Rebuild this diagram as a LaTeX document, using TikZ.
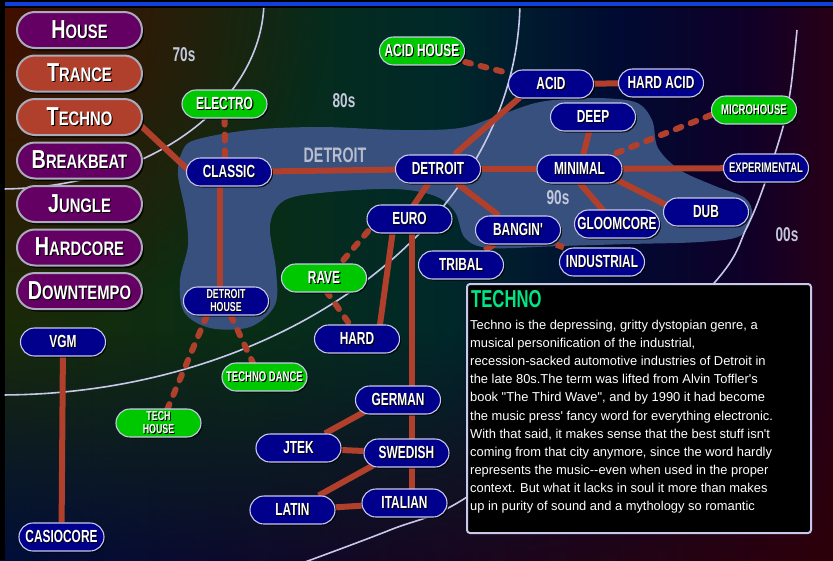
\documentclass[tikz,border=0pt]{standalone}
\usepackage{fontspec}
\usetikzlibrary{calc,shadows,fadings}
\newfontfamily\pillfont[FakeStretch=0.68]{Liberation Sans}
\newfontfamily\genrefont[FakeStretch=0.76]{Liberation Sans}
\newfontfamily\bodyfont{Liberation Sans}

\definecolor{navyfill}{RGB}{0,0,140}
\definecolor{greenfill}{RGB}{0,200,0}
\definecolor{purplefill}{RGB}{100,0,100}
\definecolor{rustfill}{RGB}{176,64,44}
\definecolor{linkred}{RGB}{176,64,44}
\definecolor{rim}{RGB}{200,200,235}
\definecolor{genrerim}{RGB}{170,170,185}
\definecolor{blobblue}{RGB}{55,80,125}
\definecolor{decade}{RGB}{195,200,220}
\definecolor{mint}{RGB}{0,230,130}
\definecolor{topblue}{RGB}{16,64,220}
\definecolor{bgA}{RGB}{26,42,8}
\definecolor{bgB}{RGB}{8,46,22}
\definecolor{bgC}{RGB}{0,40,42}
\definecolor{bgD}{RGB}{0,10,50}
\definecolor{bgE}{RGB}{16,0,40}
\definecolor{bgF}{RGB}{40,0,22}
\definecolor{lownavy}{RGB}{0,14,58}
\definecolor{lowmaroon}{RGB}{45,0,10}
\definecolor{cornerbrown}{RGB}{66,14,0}

\pgfdeclarelayer{bg}
\pgfdeclarelayer{links}
\pgfsetlayers{bg,links,main}

\pgfdeclarehorizontalshading{backdrop}{100bp}{color(0bp)=(bgA); color(25bp)=(bgA); color(40bp)=(bgB); color(52bp)=(bgC); color(62bp)=(bgD); color(70bp)=(bgE); color(75bp)=(bgF); color(100bp)=(bgF)}
\tikzfading[name=fade down, top color=transparent!100, bottom color=transparent!0]
\tikzfading[name=fade corner, inner color=transparent!0, outer color=transparent!100]

% white text with a black drop
\newcommand\shd[1]{\leavevmode\rlap{\kern1.1pt\raisebox{-1.1pt}{\color{black}#1}}#1}
\newcommand\gname[2]{\shd{{\fontsize{26}{26}\selectfont#1}{\fontsize{19.5}{20}\selectfont#2}}}

\tikzset{
  pill/.style={rectangle, rounded corners=14pt, minimum width=85pt, minimum height=28pt, inner sep=0pt,
    draw=rim, line width=1.1pt, fill=navyfill, text=white,
    font=\pillfont\bfseries\fontsize{17.5}{17}\selectfont,
    drop shadow={shadow xshift=1.5pt, shadow yshift=-1.5pt, opacity=.8, fill=black}},
  greenpill/.style={pill, fill=greenfill},
  smallpill/.style={font=\pillfont\bfseries\fontsize{14}{13}\selectfont, align=center},
  twoline/.style={font=\pillfont\bfseries\fontsize{13}{13}\selectfont, align=center},
  genre/.style={pill, rounded corners=18pt, minimum width=125pt, minimum height=36pt,
    draw=genrerim, line width=2pt, font=\genrefont\bfseries,
    drop shadow={shadow xshift=2pt, shadow yshift=-2.5pt, opacity=.85, fill=black}},
  link/.style={draw=linkred, line width=6pt},
  dashlink/.style={link, dash pattern=on 6pt off 10pt, line cap=round},
  era/.style={draw=rim, line width=1.6pt},
  eralabel/.style={text=decade, font=\pillfont\bfseries\fontsize{20}{20}\selectfont}
}

\begin{document}
\begin{tikzpicture}[x=1pt,y=-1pt]
\useasboundingbox (0,0) rectangle (833,560);

% genre buttons
\foreach \nm/\a/\b/\c [count=\i from 0] in {ghouse/H/OUSE/purplefill, gtrance/T/RANCE/rustfill,
    gtechno/T/ECHNO/rustfill, gbreak/B/REAKBEAT/purplefill, gjungle/J/UNGLE/purplefill,
    ghard/H/ARDCORE/purplefill, gdown/D/OWNTEMPO/purplefill} {
  \node[genre, fill=\c] (\nm) at (79.5,30+43.5*\i) {\gname{\a}{\b}};
}

% decades
\node[eralabel] (seventies) at (184,55) {70s};
\node[eralabel] (eighties) at (344,101) {80s};
\node[eralabel] (nineties) at (558,198) {90s};
\node[eralabel] (noughties) at (787,235) {00s};
\node[text=decade!85!gray, font=\pillfont\bfseries\fontsize{21}{21}\selectfont] (detroitarea) at (335,155) {DETROIT};

% styles
\node[greenpill] (acidhouse) at (422,51) {\shd{ACID HOUSE}};
\node[pill] (acid) at (551,84) {\shd{ACID}};
\node[pill] (hardacid) at (661,83) {\shd{HARD ACID}};
\node[pill] (deep) at (593,117) {\shd{DEEP}};
\node[greenpill, smallpill] (micro) at (754,110) {\shd{MICROHOUSE}};
\node[pill] (detroit) at (438,169) {\shd{DETROIT}};
\node[pill] (minimal) at (579.5,169) {\shd{MINIMAL}};
\node[pill, smallpill] (experimental) at (766,168) {\shd{EXPERIMENTAL}};
\node[pill] (euro) at (409.5,219) {\shd{EURO}};
\node[pill] (bangin) at (518,230) {\shd{BANGIN'}};
\node[pill] (gloom) at (617,224) {\shd{GLOOMCORE}};
\node[pill] (dub) at (706,212) {\shd{DUB}};
\node[pill] (tribal) at (461,265) {\shd{TRIBAL}};
\node[pill] (industrial) at (602,262) {\shd{INDUSTRIAL}};
\node[greenpill] (electro) at (224.5,104) {\shd{ELECTRO}};
\node[pill] (classic) at (229,172) {\shd{CLASSIC}};
\node[greenpill] (rave) at (324,278) {\shd{RAVE}};
\node[pill, twoline] (dhouse) at (226,301) {\shd{DETROIT}\\\shd{HOUSE}};
\node[pill] (hard) at (357,339) {\shd{HARD}};
\node[greenpill, smallpill] (tdance) at (264.5,377) {\shd{TECHNO DANCE}};
\node[greenpill, twoline] (techhouse) at (158.5,423) {\shd{TECH}\\\shd{HOUSE}};
\node[pill] (vgm) at (63,342) {\shd{VGM}};
\node[pill] (casio) at (61.5,537) {\shd{CASIOCORE}};
\node[pill] (german) at (398,400) {\shd{GERMAN}};
\node[pill] (jtek) at (298.5,448) {\shd{JTEK}};
\node[pill] (swedish) at (406.5,453) {\shd{SWEDISH}};
\node[pill] (latin) at (292.5,510) {\shd{LATIN}};
\node[pill] (italian) at (404.5,503) {\shd{ITALIAN}};

% info panel
\node[draw=rim, line width=2pt, fill=black, rounded corners=3pt, minimum width=344pt, minimum height=249pt] (info) at (639,408.5) {};
\node[anchor=base west, inner sep=0pt, text=mint, font=\pillfont\fontsize{24.5}{24.5}\selectfont] (infotitle) at (471,307) {\textbf{TECHNO}};
\node[anchor=north west, inner sep=0pt, align=left, text=white, font=\bodyfont\fontsize{12.9}{18.1}\selectfont] (infotext) at (470,320) {%
Techno is the depressing, gritty dystopian genre, a\\
musical personification of the industrial,\\
recession-sacked automotive industries of Detroit in\\
the late 80s.The term was lifted from Alvin Toffler's\\
book "The Third Wave", and by 1990 it had become\\
the music press' fancy word for everything electronic.\\
With that said, it makes sense that the best stuff isn't\\
coming from that city anymore, since the word hardly\\
represents the music--even when used in the proper\\
context. But what it lacks in soul it more than makes\\
up in purity of sound and a mythology so romantic};

\begin{pgfonlayer}{links}
\draw[link] ($(gtechno)+(50,-2)$) -- ($(classic)+(-29,9)$);
\draw[link] (classic) -- (detroit);
\draw[link] ($(classic)+(-9,0)$) -- ($(dhouse)+(-6,0)$);
\draw[dashlink] (electro) -- ($(classic)+(-4,-6)$);
\draw[link] (detroit) -- ($(acid)+(-25,8)$);
\draw[link] (detroit) -- (minimal);
\draw[link] (detroit) -- ($(euro)+(-5,0)$);
\draw[link] (detroit) -- (bangin);
\draw[link] (acid) -- (hardacid);
\draw[dashlink] (acidhouse) -- (acid);
\draw[link] (minimal) -- (deep);
\draw[link] (minimal) -- (experimental);
\draw[link] ($(minimal)+(0,-8)$) -- ($(dub)+(-10,8)$);
\draw[link] ($(minimal)+(-12,0)$) -- ($(gloom)+(-2,0)$);
\draw[dashlink] ($(minimal)+(22,-10)$) -- ($(micro)+(-28,-1)$);
\draw[link] (bangin) -- (tribal);
\draw[link] (bangin) -- (industrial);
\draw[dashlink] ($(euro)+(-31,0)$) -- ($(rave)+(4,0)$);
\draw[dashlink] ($(rave)+(-7,0)$) -- ($(hard)+(3,0)$);
\draw[link] ($(euro)+(-15,0)$) -- ($(hard)+(21,0)$);
\draw[link] ($(euro)+(2.5,0)$) -- ($(german)+(14,0)$);
\draw[link] ($(german)+(14,0)$) -- ($(swedish)+(5.5,0)$);
\draw[link] ($(swedish)+(5.5,0)$) -- ($(italian)+(7.5,0)$);
\draw[link] ($(german)+(-12,0)$) -- (jtek);
\draw[link] (jtek) -- (swedish);
\draw[link] ($(swedish)+(-11,0)$) -- (latin);
\draw[link] (latin) -- (italian);
\draw[link] (vgm) -- (casio);
\draw[dashlink] ($(dhouse)+(-13,0)$) -- ($(techhouse)+(3,0)$);
\draw[dashlink] ($(dhouse)+(-2,0)$) -- ($(tdance)+(-5,0)$);
\end{pgfonlayer}

\begin{pgfonlayer}{bg}
\shade[shading=backdrop] (0,0) rectangle (833,560);
\shade[left color=lownavy, right color=lowmaroon, path fading=fade down] (0,330) rectangle (833,560);
\begin{scope}
  \clip (0,0) rectangle (833,560);
  \fill[cornerbrown, path fading=fade corner] (-330,-330) rectangle (330,330);
\end{scope}
\fill[black] (0,0) rectangle (833,8);
\fill[topblue] (0,2) rectangle (833,6);
\fill[black] (0,0) rectangle (5,560);
% the Detroit patch
\fill[blobblue] plot[smooth cycle, tension=0.55] coordinates {(195,140) (250,130) (320,127) (400,130)
  (460,128) (500,115) (540,102) (590,98) (635,102) (652,120) (658,148) (680,170) (715,186)
  (745,198) (752,215) (740,236) (700,242) (630,244) (560,246) (490,248) (465,238) (455,212)
  (435,196) (395,189) (330,192) (285,200) (270,225) (276,270) (275,305) (250,327) (210,328)
  (184,312) (180,280) (188,245) (185,210) (178,175) (182,152)};
% decade rings
\draw[era] plot[domain=2.4:89, samples=60] ({264*cos(\x)},{189*sin(\x)});
\draw[era] plot[domain=1.2:89.5, samples=80] ({520*cos(\x)},{395*sin(\x)});
\draw[era] plot[smooth, tension=0.6] coordinates {(797,30) (794,60) (790,93) (783,127) (766,180)
  (747,227) (715,282) (600,395) (467,497) (390,530) (305,562)};
\end{pgfonlayer}
\end{tikzpicture}
\end{document}
